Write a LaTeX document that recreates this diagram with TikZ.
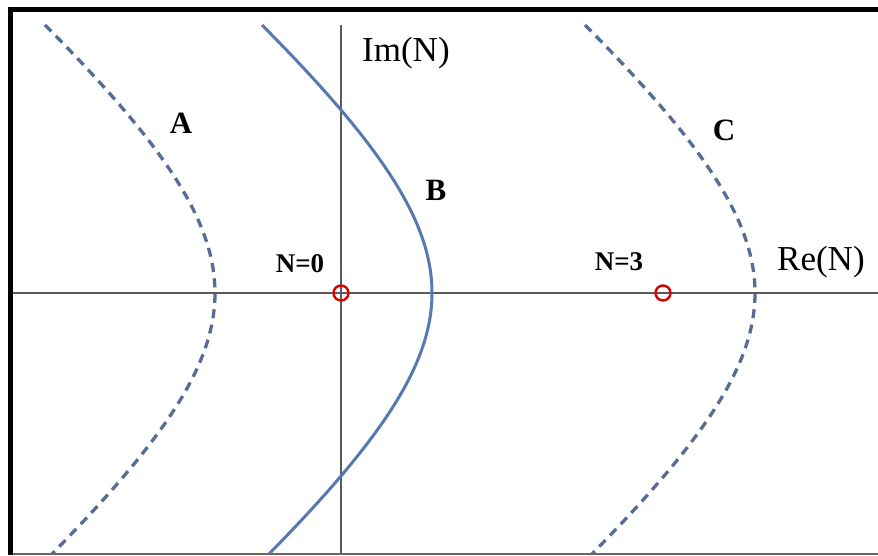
\documentclass[tikz,border=0pt]{standalone}
\usepackage{fontspec}
\setmainfont{Liberation Serif}
\definecolor{curveB}{HTML}{5878B0}
\definecolor{curveD}{HTML}{566E96}
\definecolor{axisgray}{HTML}{5A5A5A}
\begin{document}
\begin{tikzpicture}[x=1pt,y=-1pt,
  axisline/.style={draw=axisgray,line width=1.3pt},
  solidcurve/.style={draw=curveB,line width=3pt},
  dashcurve/.style={draw=curveD,line width=3.3pt,dash pattern=on 9pt off 6.5pt},
  pole/.style={circle,draw=red!85!black,line width=2.4pt,minimum size=15pt,inner sep=0pt},
  axislabel/.style={font=\fontsize{35}{40}\selectfont,inner sep=0pt},
  curvelabel/.style={font=\fontsize{31}{34}\selectfont\bfseries,inner sep=0pt,anchor=base},
  polelabel/.style={font=\fontsize{27}{30}\selectfont\bfseries,inner sep=0pt,anchor=base}]
\useasboundingbox (0,0) rectangle (878,555);
\fill[white] (0,0) rectangle (878,555);
% frame
\draw[black,line width=5.5pt] (8,9.5) -- (878,9.5);
\draw[black,line width=5.5pt] (10.5,6.5) -- (10.5,555);
\draw[gray!80!black,line width=2pt] (13,554) -- (878,554);
% axes
\coordinate (xl) at (13,293);
\coordinate (xr) at (878,293);
\coordinate (yt) at (341,25);
\coordinate (yb) at (341,553);
\draw[axisline] (xl) -- (xr);
\draw[axisline] (yt) -- (yb);
% curves
\begin{scope}
\clip (13,12) rectangle (878,553);
\draw[dashcurve] plot[domain=-2.68:2.66,samples=120,smooth]
  ({215+221.5-100*sqrt(4.9062+1.451*\x*\x)},{293+100*\x});
\draw[solidcurve] plot[domain=-2.68:2.66,samples=120,smooth]
  ({432+221.5-100*sqrt(4.9062+1.451*\x*\x)},{293+100*\x});
\draw[dashcurve] plot[domain=-2.68:2.66,samples=120,smooth]
  ({755+221.5-100*sqrt(4.9062+1.451*\x*\x)},{293+100*\x});
\end{scope}
% poles
\node[pole] (p0) at (341,293) {};
\node[pole] (p3) at (663,293) {};
% labels
\node[axislabel,anchor=base west] (im) at (362,61) {Im(N)};
\node[axislabel,anchor=base west] (re) at (777,270) {Re(N)};
\node[curvelabel] (la) at (181,133) {A};
\node[curvelabel] (lb) at (436,200) {B};
\node[curvelabel] (lc) at (724,140) {C};
\node[polelabel] (n0) at (300,272) {N=0};
\node[polelabel] (n3) at (619,270) {N=3};
\end{tikzpicture}
\end{document}
